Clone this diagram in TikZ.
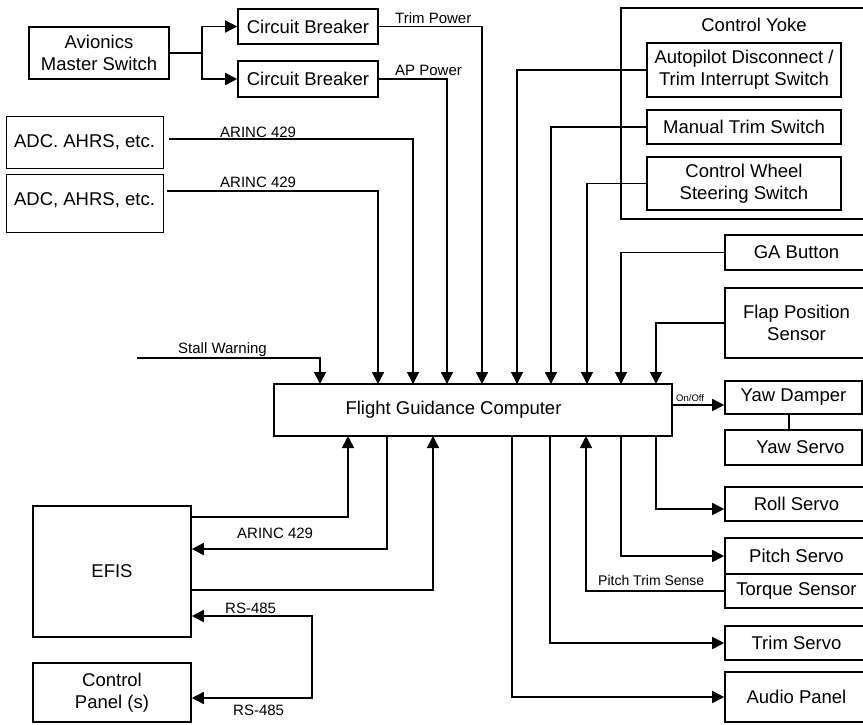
\documentclass[tikz,border=0pt]{standalone}
\usepackage{fontspec}
\setmainfont{Liberation Sans}
\usetikzlibrary{arrows.meta}
\newcommand\bxfont{\fontsize{18.5}{22}\selectfont}
\newcommand\lbfont{\fontsize{15}{17}\selectfont}
\begin{document}
\begin{tikzpicture}[x=1pt,y=-1pt,
  box/.style={draw, line width=1.6pt, inner sep=0pt, font=\bxfont, align=center},
  thinbox/.style={box, line width=0.8pt},
  ln/.style={line width=1.6pt},
  arr/.style={ln, -{Triangle[length=12pt,width=12pt]}},
  arrtwo/.style={ln, {Triangle[length=12pt,width=12pt]}-{Triangle[length=12pt,width=12pt]}},
  lbl/.style={font=\lbfont, inner sep=0pt, anchor=base west},
  txt/.style={font=\bxfont, inner sep=0pt, align=center}]
\useasboundingbox (0,0) rectangle (863,724);
\clip (0,0) rectangle (863,724);

% ---- boxes ----
\node[box, minimum width=140, minimum height=52] (avms) at (99,53) {Avionics\\Master Switch};
\node[box, minimum width=140, minimum height=35] (cb1) at (308,26.5) {Circuit Breaker};
\node[box, minimum width=140, minimum height=36] (cb2) at (308,79) {Circuit Breaker};
\node[thinbox, minimum width=157, minimum height=52] (adc1) at (84.5,142) {ADC. AHRS, etc.};
\node[thinbox, minimum width=157, minimum height=58] (adc2) at (84.5,203) {};
\node[txt] (adc2t) at (84.5,200) {ADC, AHRS, etc.};

\node[box, minimum width=259, minimum height=211] (yoke) at (750.5,113.5) {};
\node[txt] (yoket) at (754,25) {Control Yoke};
\node[box, minimum width=194, minimum height=54] (apd) at (744,70) {Autopilot Disconnect /\\Trim Interrupt Switch};
\node[box, minimum width=194, minimum height=34] (mts) at (744,127) {Manual Trim Switch};
\node[box, minimum width=194, minimum height=53] (cws) at (744,183.5) {Control Wheel\\Steering Switch};

\node[box, minimum width=143, minimum height=35] (ga) at (796.5,252.5) {GA Button};
\node[box, minimum width=143, minimum height=70] (flap) at (796.5,323) {Flap Position\\Sensor};
\node[box, minimum width=137, minimum height=33] (yawd) at (793.5,397.5) {Yaw Damper};
\node[box, minimum width=137, minimum height=35] (yaws) at (793.5,447.5) {};
\node[txt] (yawst) at (800.5,447.5) {Yaw Servo};
\node[box, minimum width=143, minimum height=34] (roll) at (796.5,504) {Roll Servo};
\node[box, minimum width=143, minimum height=36] (pitch) at (796.5,556) {Pitch Servo};
\node[box, minimum width=143, minimum height=34] (torque) at (796.5,591) {Torque Sensor};
\node[box, minimum width=143, minimum height=34] (trim) at (796.5,643) {Trim Servo};
\node[box, minimum width=143, minimum height=50] (audio) at (796.5,697) {Audio Panel};

\node[box, minimum width=398, minimum height=52] (fgc) at (473,410) {};
\node[txt] (fgct) at (453.5,410) {Flight Guidance Computer};

\node[box, minimum width=158, minimum height=131] (efis) at (112,571.5) {EFIS};
\node[box, minimum width=158, minimum height=59] (cp) at (112,692.5) {Control\\Panel (s)};

% ---- ports on the FGC ----
\foreach \x in {320,378,413,447,482,517,551,587,621,656}{\coordinate (p\x) at (\x,384);}
\foreach \x in {348,387,433,512,550,586,621,656}{\coordinate (q\x) at (\x,436);}
\coordinate (j) at (202,53);
\coordinate (sw) at (137,358);
\coordinate (rs) at (312,616);

% ---- connectors ----
\draw[ln] (avms.east) -- (j);
\draw[arr] (j) |- (cb1.west);
\draw[arr] (j) |- (cb2.west);
\draw[arr] (cb1.east) -| (p482);
\draw[arr] (cb2.east) -| (p447);
\draw[arr] ([xshift=6pt,yshift=3pt]adc1.east) -| (p413);
\draw[arr] ([xshift=4pt,yshift=12pt]adc2.east) -| (p378);
\draw[arr] (sw) -| (p320);
\draw[arr] (apd.west) -| (p517);
\draw[arr] (mts.west) -| (p551);
\draw[arr] (cws.west) -| (p587);
\draw[arr] (ga.west) -| (p621);
\draw[arr] (flap.west) -| (p656);
\draw[arr] ([yshift=5pt]fgc.east) -- ([yshift=-7.5pt]yawd.west);
\draw[ln] ([xshift=-4.5pt]yawd.south) -- ([xshift=-4.5pt]yaws.north);
\draw[arr] (q656) |- ([yshift=-5pt]roll.west);
\draw[arr] (q621) |- (pitch.west);
\draw[arr] (torque.west) -| (q586);
\draw[arr] (q550) |- (trim.west);
\draw[arr] (q512) |- (audio.west);
\draw[arr] ([yshift=54.5pt]efis.east) -| (q348);
\draw[arr] (q387) |- ([yshift=22.5pt]efis.east);
\draw[arr] ([yshift=-18.5pt]efis.east) -| (q433);
\draw[arrtwo] ([yshift=-44.5pt]efis.east) -- (rs) |- ([yshift=-5.5pt]cp.east);

% ---- labels ----
\node[lbl] (l1) at (395,23) {Trim Power};
\node[lbl] (l2) at (395,75) {AP Power};
\node[lbl] (l3) at (220,137) {ARINC 429};
\node[lbl] (l4) at (220,187) {ARINC 429};
\node[lbl] (l5) at (178,353) {Stall Warning};
\node[lbl, font=\fontsize{9.5}{11}\selectfont] (l6) at (676,401) {On/Off};
\node[lbl] (l7) at (237,538) {ARINC 429};
\node[lbl] (l8) at (225,613) {RS-485};
\node[lbl] (l9) at (233,715) {RS-485};
\node[lbl, font=\fontsize{14}{16}\selectfont] (l10) at (598,585) {Pitch Trim Sense};
\end{tikzpicture}
\end{document}
